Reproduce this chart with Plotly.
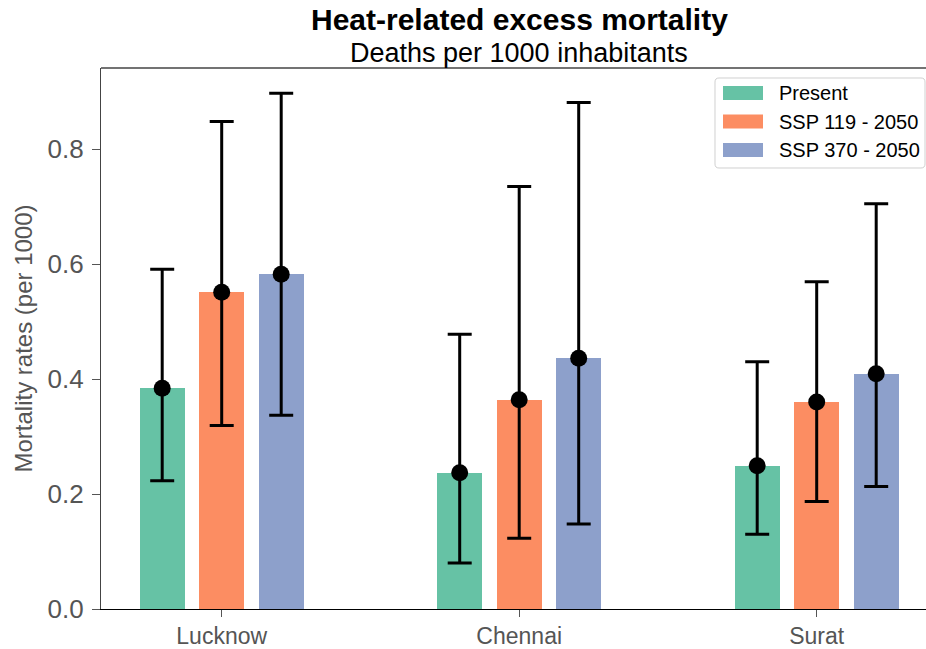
import plotly.graph_objects as go

cities = ["Lucknow", "Chennai", "Surat"]
scenarios = ["Present", "SSP 119 - 2050", "SSP 370 - 2050"]
colors = ["#66c2a5", "#fc8d62", "#8da0cb"]

# mean mortality rates (per 1000) per scenario, per city
mean_present = [0.384, 0.237, 0.249]
mean_ssp119 = [0.551, 0.364, 0.360]
mean_ssp370 = [0.582, 0.436, 0.409]

low_present = [0.223, 0.080, 0.130]
low_ssp119 = [0.319, 0.123, 0.187]
low_ssp370 = [0.337, 0.148, 0.213]

high_present = [0.591, 0.478, 0.430]
high_ssp119 = [0.848, 0.735, 0.569]
high_ssp370 = [0.897, 0.881, 0.705]

means = [mean_present, mean_ssp119, mean_ssp370]
lows = [low_present, low_ssp119, low_ssp370]
highs = [high_present, high_ssp119, high_ssp370]

W, H = 926, 649
ML, MR, MT, MB = 101, 0, 68, 40
PW, PH = W - ML - MR, H - MT - MB

def px_x(px):
    return (px - ML) / PW

def px_y(py):
    return (H - MB - py) / PH

FONT = "Liberation Sans, Arial, sans-serif"
offsets = [-0.2, 0.0, 0.2]
bar_w = 0.151

fig = go.Figure()
for i, sc in enumerate(scenarios):
    xs = [g + offsets[i] for g in range(len(cities))]
    fig.add_trace(go.Bar(
        x=xs, y=means[i], width=bar_w, name=sc,
        marker=dict(color=colors[i], line=dict(width=0)),
        showlegend=False,
    ))
for i, sc in enumerate(scenarios):
    xs = [g + offsets[i] for g in range(len(cities))]
    fig.add_trace(go.Scatter(
        x=xs, y=means[i], mode="markers", name=sc,
        marker=dict(color="black", size=17),
        error_y=dict(
            type="data", symmetric=False,
            array=[h - m for h, m in zip(highs[i], means[i])],
            arrayminus=[m - l for m, l in zip(means[i], lows[i])],
            color="black", thickness=3, width=12,
        ),
        showlegend=False,
    ))

axis_col = "#444444"
tick_col = "#555555"

fig.update_layout(
    width=W, height=H,
    margin=dict(l=ML, r=MR, t=MT, b=MB, autoexpand=False),
    paper_bgcolor="white", plot_bgcolor="white",
    bargap=0,
    font=dict(family=FONT, color=tick_col),
    xaxis=dict(
        range=[(ML - 221.7) / 297.5, (W - 221.7) / 297.5],
        tickvals=list(range(len(cities))), ticktext=cities,
        ticks="outside", ticklen=7, tickwidth=1.3, tickcolor=tick_col,
        ticklabelstandoff=-1, automargin=False,
        showline=True, linecolor="black", linewidth=1.3,
        showgrid=False, zeroline=False,
        tickfont=dict(size=23, color=tick_col, family=FONT),
    ),
    yaxis=dict(
        range=[0, (H - MB - MT) / 575],
        tickvals=[0, 0.2, 0.4, 0.6, 0.8],
        ticktext=["0.0", "0.2", "0.4", "0.6", "0.8"],
        ticks="outside", ticklen=8, tickwidth=1.3, tickcolor=tick_col,
        ticklabelstandoff=3, automargin=False,
        showline=True, linecolor=axis_col, linewidth=1.3,
        showgrid=False, zeroline=False,
        tickfont=dict(size=26, color=tick_col, family=FONT),
        title=dict(text="Mortality rates (per 1000)",
                   font=dict(size=24, color=tick_col, family=FONT),
                   standoff=8),
    ),
)

shapes = [
    dict(type="line", xref="paper", yref="paper", x0=0, x1=1, y0=1, y1=1,
         line=dict(color=axis_col, width=1.3)),
]
# legend box with rounded corners
lx0, lx1, ly0, ly1, r = 715, 925, 78, 168, 4
path = (f"M {lx0+r},{ly0} L {lx1-r},{ly0} Q {lx1},{ly0} {lx1},{ly0+r} "
        f"L {lx1},{ly1-r} Q {lx1},{ly1} {lx1-r},{ly1} L {lx0+r},{ly1} "
        f"Q {lx0},{ly1} {lx0},{ly1-r} L {lx0},{ly0+r} Q {lx0},{ly0} {lx0+r},{ly0} Z")

def conv_path(p):
    out = []
    toks = p.replace(",", " ").split()
    i = 0
    while i < len(toks):
        t = toks[i]
        if t in ("M", "L", "Q", "Z"):
            out.append(t)
            i += 1
            continue
        xv = px_x(float(toks[i])); yv = px_y(float(toks[i + 1]))
        out.append(f"{xv:.5f},{yv:.5f}")
        i += 2
    return " ".join(out)

shapes.append(dict(type="path", xref="paper", yref="paper", path=conv_path(path),
                   line=dict(color="#d0d0d0", width=1), fillcolor="rgba(255,255,255,0.8)"))
annotations = []
row_y = [93, 121.5, 150]
for i, sc in enumerate(scenarios):
    shapes.append(dict(type="rect", xref="paper", yref="paper",
                       x0=px_x(723), x1=px_x(763), y0=px_y(row_y[i] - 7), y1=px_y(row_y[i] + 7),
                       fillcolor=colors[i], line=dict(width=0)))
    annotations.append(dict(text=sc, xref="paper", yref="paper", x=px_x(777), y=px_y(row_y[i]),
                            xanchor="left", yanchor="middle", showarrow=False,
                            font=dict(size=20, color="black", family=FONT)))

annotations.append(dict(text="<b>Heat-related excess mortality</b>", xref="paper", yref="paper",
                        x=px_x(519), y=px_y(20), xanchor="center", yanchor="middle",
                        showarrow=False, font=dict(size=30, color="black", family=FONT)))
annotations.append(dict(text="Deaths per 1000 inhabitants", xref="paper", yref="paper",
                        x=px_x(519), y=px_y(53), xanchor="center", yanchor="middle",
                        showarrow=False, font=dict(size=27, color="black", family=FONT)))

fig.update_layout(shapes=shapes, annotations=annotations)
fig.write_html("out.html", config={"displayModeBar": False},
               post_script="document.body.style.margin='0';")
